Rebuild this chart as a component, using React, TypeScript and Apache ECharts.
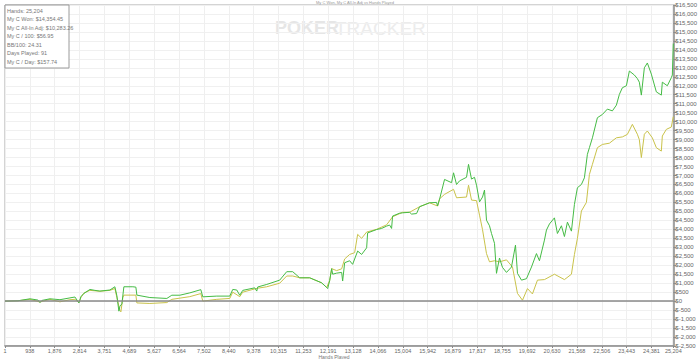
import React, { useEffect, useRef } from "react";
import * as echarts from "echarts";

// Hands played (x) and cumulative winnings ($)
const wonHands = [
  1, 491, 943, 1244, 1320, 1395, 1696, 2073, 2450, 2638, 2789, 2864, 2977, 3203, 3392, 3580, 3957, 4145, 4220, 4296,
  4333, 4409, 4484, 4823, 4936, 4974, 5464, 6104, 6292, 6594, 6970, 7385, 7460, 7988, 8477, 8590, 8741, 8854, 8967,
  9419, 9495, 9532, 9871, 10361, 10625, 10851, 11115, 11491, 11943, 12132, 12169, 12245, 12320, 12358, 12508, 12697,
  12734, 12810, 12998, 13111, 13300, 13450, 13639, 13676, 14015, 14204, 14392, 14505, 14580, 14618, 14882, 14995,
  15259, 15334, 15522, 15635, 16012, 16276, 16313, 16389, 16577, 16841, 16916, 17029, 17142, 17406, 17481, 17594,
  17707, 17783, 17896, 18009, 18084, 18159, 18272, 18348, 18461, 18536, 18649, 18762, 18913, 19101, 19252, 19327,
  19478, 19666, 19855, 20043, 20156, 20344, 20420, 20533, 20721, 20834, 20985, 21098, 21211, 21362, 21475, 21588,
  21738, 21851, 21964, 22040, 22153, 22341, 22529, 22718, 22906, 23057, 23170, 23283, 23434, 23547, 23735, 23848,
  23923, 23999, 24112, 24225, 24375, 24564, 24752, 24790, 24978, 25129, 25167, 25204,
];
const wonValues = [
  0, 20, 130, 60, -80, 40, 130, 80, 180, 230, -100, 250, 430, 650, 600, 560, 620, 800, 300, -560,
  -300, -150, 800, 800, 780, 335, 200, 150, 330, 330, 460, 640, 240, 280, 280, 650, 620, 330, 600,
  740, 560, 790, 930, 1170, 1640, 1640, 1300, 1300, 1020, 760, 700, 1150, 1810, 1500, 1560, 1600,
  1120, 2140, 2250, 2050, 2790, 2600, 2970, 3800, 3990, 4050, 4180, 4240, 4050, 4740, 4900, 4920,
  4950, 4850, 4880, 5260, 5480, 5500, 5300, 5680, 6780, 6600, 7150, 6500, 6700, 6900, 7620, 6800,
  6900, 6460, 5530, 5800, 6190, 4510, 4200, 3770, 3220, 1550, 2400, 1880, 1600, 1900, 3120, 1550,
  1170, 1250, 1900, 2650, 2250, 3400, 3960, 4300, 4640, 3770, 4200, 3600, 4400, 3900, 5390, 6320,
  6500, 6870, 8180, 8550, 9100, 10220, 10400, 10700, 10600, 10920, 11520, 11890, 12000, 12820, 12600, 12400,
  12200, 11480, 13000, 13270, 12650, 11660, 11480, 12200, 12000, 12450, 12600, 14354.45,
];

const adjHands = [
  1, 491, 943, 1320, 1696, 2073, 2450, 2638, 2789, 2864, 2977, 3203, 3580, 3957, 4145, 4220, 4333, 4371, 4446,
  4484, 4936, 4974, 5464, 6104, 6292, 6970, 7385, 7460, 7988, 8477, 8590, 8854, 8967, 9419, 9532, 9871, 10361,
  10625, 10851, 11115, 11491, 11943, 12132, 12245, 12320, 12508, 12697, 12810, 12998, 13187, 13300, 13450, 13639,
  14015, 14392, 14618, 14995, 15259, 15635, 16012, 16313, 16389, 16577, 16916, 17029, 17406, 17481, 17594, 17783,
  17896, 18009, 18159, 18272, 18461, 18649, 18913, 19139, 19327, 19516, 19704, 19892, 20081, 20344, 20721, 21098,
  21362, 21475, 21588, 21738, 21927, 22040, 22153, 22341, 22529, 22793, 23057, 23283, 23471, 23660, 23848, 23923,
  23999, 24112, 24225, 24413, 24564, 24752, 24790, 24941, 25129, 25204,
];
const adjValues = [
  0, 20, 100, -50, 100, -40, 80, 100, -80, 200, 450, 600, 550, 600, 700, 200, -500, -600, 200,
  335, 335, -100, -130, -80, 100, 250, 420, 0, 100, 150, 500, 250, 500, 680, 720, 800, 1000,
  1400, 1400, 1300, 1300, 1020, 760, 1150, 1810, 1700, 1800, 2350, 2600, 2700, 3720, 3500, 3850,
  4000, 4250, 4700, 4950, 4950, 5260, 5480, 5300, 5700, 5950, 6230, 5760, 5800, 6460, 5630, 5600,
  4790, 3980, 2650, 2190, 2250, 2190, 2300, 1900, 430, 50, 700, 400, 1170, 1200, 1500, 1200,
  1500, 2600, 3500, 5020, 5500, 7060, 7620, 8550, 8730, 8800, 9100, 9150, 9290, 9850, 9300, 9000,
  8000, 9300, 9480, 9100, 8550, 8360, 9200, 9570, 9700, 10283.26,
];

const xTickValues = [
  1, 938, 1876, 2814, 3751, 4689, 5627, 6564, 7502, 8440, 9378, 10315, 11253, 12191, 13128, 14066,
  15004, 15942, 16879, 17817, 18755, 19692, 20630, 21568, 22506, 23443, 24381, 25204,
];

const statLines = [
  "Hands: 25,204",
  "My C Won: $14,354.45",
  "My C All-In Adj: $10,283.26",
  "My C / 100: $56.95",
  "BB/100: 24.31",
  "Days Played: 91",
  "My C / Day: $157.74",
];

const zip = (xs: number[], ys: number[]) => xs.map((x, i) => [x, ys[i]]);
const fmtNum = (v: number) => Math.round(v).toLocaleString("en-US");
const FONT = "Liberation Sans";

export default function App() {
  const ref = useRef<HTMLDivElement>(null);
  useEffect(() => {
    if (!ref.current) return;
    const chart = echarts.init(ref.current, null, { renderer: "svg" });
    chart.setOption({
      animation: false,
      backgroundColor: "#ffffff",
      textStyle: { fontFamily: FONT },
      grid: {
        left: 5,
        right: 26,
        top: 5,
        bottom: 13,
        show: true,
        borderColor: "#a8a8a8",
        borderWidth: 1,
      },
      xAxis: {
        type: "value",
        min: 1,
        max: 25204,
        axisLine: { show: true, onZero: false, lineStyle: { color: "#8a8a8a", width: 1.5 } },
        axisTick: { show: true, length: 2, customValues: xTickValues, lineStyle: { color: "#8a8a8a" } },
        axisLabel: {
          customValues: xTickValues,
          formatter: (v: number) => fmtNum(v),
          fontSize: 5.5,
          color: "#666",
          margin: 2,
          fontFamily: FONT,
        },
        splitLine: { show: true, lineStyle: { color: "#efefef", width: 1 } },
      },
      yAxis: {
        type: "value",
        position: "right",
        min: -2500,
        max: 16500,
        interval: 500,
        axisLine: { show: true, onZero: false, lineStyle: { color: "#8a8a8a", width: 1.5 } },
        axisTick: { show: true, length: 3, lineStyle: { color: "#8a8a8a" } },
        axisLabel: {
          formatter: (v: number) => (v < 0 ? "$-" + fmtNum(-v) : "$" + fmtNum(v)),
          fontSize: 6,
          color: "#666",
          margin: 2,
          fontFamily: FONT,
        },
        splitLine: { show: true, lineStyle: { color: "#f0f0f0", width: 1 } },
      },
      series: [
        {
          name: "My C All-In Adj",
          type: "line",
          data: zip(adjHands, adjValues),
          showSymbol: false,
          lineStyle: { color: "#c9c24a", width: 1 },
          z: 3,
          markLine: {
            silent: true,
            symbol: "none",
            label: { show: false },
            lineStyle: { color: "#8a8a8a", width: 1.5, type: "solid" },
            data: [{ yAxis: 0 }],
          },
        },
        {
          name: "My C Won",
          type: "line",
          data: zip(wonHands, wonValues),
          showSymbol: false,
          lineStyle: { color: "#45bb45", width: 1 },
          z: 4,
        },
      ],
      graphic: [
        {
          type: "text",
          x: 355,
          y: 0,
          style: {
            text: "My C Won, My C All-In Adj vs Hands Played",
            fontSize: 4,
            fill: "#999",
            align: "center",
            fontFamily: FONT,
          },
        },
        {
          type: "text",
          x: 334,
          y: 354,
          style: { text: "Hands Played", fontSize: 5, fill: "#777", align: "center", fontFamily: FONT },
        },
        {
          type: "text",
          x: 275,
          y: 19,
          z: 0,
          style: { text: "POKER", fontSize: 18, fontWeight: "bold", fill: "#e6e6e6", fontFamily: FONT },
        },
        {
          type: "text",
          x: 335,
          y: 19,
          z: 0,
          style: { text: "TRACKER", fontSize: 19, fill: "#ececec", fontFamily: FONT },
        },
        {
          type: "rect",
          shape: { x: 5, y: 5, width: 64, height: 63 },
          style: { fill: "#ffffff", stroke: "#9a9a9a", lineWidth: 1 },
          z: 10,
        },
        ...statLines.map((t, i) => ({
          type: "text",
          x: 7,
          y: 7.5 + i * 8.5,
          z: 11,
          style: { text: t, fontSize: 5.5, fill: "#777", fontFamily: FONT },
        })),
      ],
    });
    return () => chart.dispose();
  }, []);
  return <div ref={ref} style={{ width: 700, height: 359, position: "absolute", left: 0, top: 0 }} />;
}
